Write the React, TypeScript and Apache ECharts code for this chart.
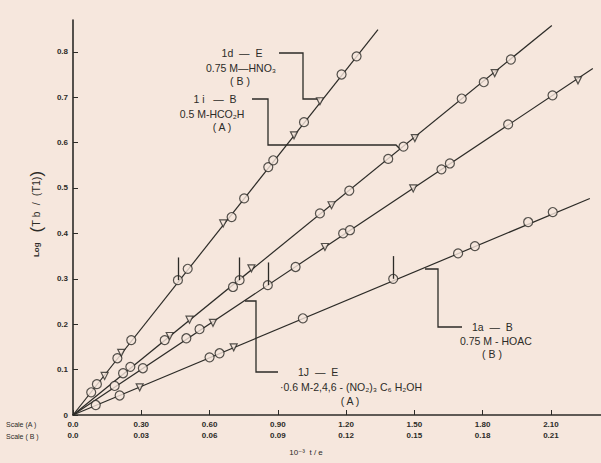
import React, { useEffect, useRef } from "react";
import * as echarts from "echarts";

// ---- Data ----
const X_TICK_VALUES = [0, 0.3, 0.6, 0.9, 1.2, 1.5, 1.8, 2.1];
const X_LABELS_A = ["0.0", "0.30", "0.60", "0.90", "1.20", "1.50", "1.80", "2.10"];
const X_LABELS_B = ["0.0", "0.03", "0.06", "0.09", "0.12", "0.15", "0.18", "0.21"];
const Y_TICK_VALUES = [0, 0.1, 0.2, 0.3, 0.4, 0.5, 0.6, 0.7, 0.8];
const Y_LABELS = ["0", "0.1", "0.2", "0.3", "0.4", "0.5", "0.6", "0.7", "0.8"];

// fitted straight lines through the origin: [x end, y end]
const L1_END = [1.34, 0.849]; // 1d — E
const L2_END = [2.104, 0.858]; // 1i — B
const L3_END = [2.284, 0.763]; // 1J — E
const L4_END = [2.271, 0.477]; // 1a — B

const L1_CIRCLES = [
  [0.08, 0.05], [0.105, 0.068], [0.195, 0.125], [0.256, 0.165], [0.461, 0.297],
  [0.504, 0.322], [0.697, 0.436], [0.752, 0.477], [0.858, 0.546], [0.88, 0.561],
  [1.015, 0.645], [1.18, 0.75], [1.246, 0.79],
];
const L1_TRIANGLES = [[0.139, 0.086], [0.212, 0.137], [0.66, 0.422], [0.971, 0.616], [1.085, 0.691]];

const L2_CIRCLES = [
  [0.22, 0.092], [0.252, 0.106], [0.403, 0.165], [0.703, 0.282], [0.732, 0.297],
  [1.085, 0.444], [1.214, 0.494], [1.385, 0.564], [1.452, 0.591], [1.708, 0.697],
  [1.805, 0.733], [1.924, 0.783],
];
const L2_TRIANGLES = [[0.425, 0.174], [0.512, 0.21], [0.784, 0.323], [1.136, 0.462], [1.502, 0.61], [1.853, 0.753]];

const L3_CIRCLES = [
  [0.183, 0.064], [0.307, 0.103], [0.498, 0.169], [0.556, 0.189], [0.856, 0.286],
  [0.978, 0.326], [1.187, 0.4], [1.217, 0.407], [1.619, 0.541], [1.656, 0.554],
  [1.912, 0.64], [2.107, 0.704],
];
const L3_TRIANGLES = [[0.615, 0.203], [1.107, 0.37], [1.495, 0.499], [2.219, 0.737]];

const L4_CIRCLES = [
  [0.1, 0.022], [0.205, 0.043], [0.6, 0.127], [0.644, 0.136], [1.01, 0.213],
  [1.407, 0.3], [1.692, 0.356], [1.766, 0.372], [2.0, 0.425], [2.108, 0.447],
];
const L4_TRIANGLES = [[0.293, 0.061], [0.706, 0.149]];

// points marked with a vertical arrow stroke
const ARROW_POINTS = [[0.461, 0.297], [0.732, 0.297], [0.856, 0.286], [1.407, 0.3]];
const ARROW_LENGTH = 0.05;

const BG = "#f6e7dd";
const INK = "#2c2b27";
const FONT = "'Liberation Sans', 'DejaVu Sans', sans-serif";

export default function App() {
  const ref = useRef<HTMLDivElement | null>(null);

  useEffect(() => {
    document.body.style.margin = "0";
    document.body.style.background = BG;
    if (!ref.current) return;
    const chart = echarts.init(ref.current, undefined, { renderer: "svg" });

    const lineSeries = (end: number[]) => ({
      type: "line",
      data: [[0, 0], end],
      showSymbol: false,
      silent: true,
      lineStyle: { color: INK, width: 1.2 },
      z: 2,
    });
    const circleSeries = (data: number[][]) => ({
      type: "scatter",
      data,
      symbol: "circle",
      symbolSize: 9,
      itemStyle: { color: BG, borderColor: INK, borderWidth: 1.2 },
      silent: true,
      z: 3,
    });
    const triSeries = (data: number[][]) => ({
      type: "scatter",
      data,
      symbol: "triangle",
      symbolRotate: 180,
      symbolSize: 7,
      itemStyle: { color: BG, borderColor: INK, borderWidth: 1.2 },
      silent: true,
      z: 3,
    });

    const txt = (text: string, x: number, y: number, align = "center", size = 10.5) => ({
      type: "text",
      x,
      y,
      silent: true,
      style: {
        text,
        fill: INK,
        fontSize: size,
        fontFamily: FONT,
        align,
        verticalAlign: "middle",
      },
    });
    const poly = (points: number[][]) => ({
      type: "polyline",
      silent: true,
      shape: { points },
      style: { stroke: INK, lineWidth: 1.3, fill: null },
    });

    const option: any = {
      animation: false,
      backgroundColor: BG,
      grid: { left: 73, right: 0, top: 20, bottom: 48, containLabel: false },
      xAxis: {
        type: "value",
        min: 0,
        max: 2.32,
        interval: 0.3,
        splitLine: { show: false },
        axisLine: { show: true, lineStyle: { color: INK, width: 1.6 } },
        axisTick: { show: true, inside: true, length: 5, customValues: X_TICK_VALUES, lineStyle: { color: INK } },
        axisLabel: {
          customValues: X_TICK_VALUES,
          margin: 4,
          color: INK,
          fontSize: 8,
          fontWeight: "bold",
          fontFamily: FONT,
          lineHeight: 11,
          formatter: (v: number) => {
            const i = X_TICK_VALUES.findIndex((t) => Math.abs(t - v) < 1e-6);
            return i < 0 ? "" : `${X_LABELS_A[i]}\n${X_LABELS_B[i]}`;
          },
        },
      },
      yAxis: {
        type: "value",
        min: 0,
        max: 0.87,
        interval: 0.1,
        splitLine: { show: false },
        axisLine: { show: true, lineStyle: { color: INK, width: 1.6 } },
        axisTick: { show: true, inside: true, length: 5, customValues: Y_TICK_VALUES, lineStyle: { color: INK } },
        axisLabel: {
          customValues: Y_TICK_VALUES,
          margin: 5,
          color: INK,
          fontSize: 8,
          fontWeight: "bold",
          fontFamily: FONT,
          formatter: (v: number) => {
            const i = Y_TICK_VALUES.findIndex((t) => Math.abs(t - v) < 1e-6);
            return i < 0 ? "" : Y_LABELS[i];
          },
        },
      },
      series: [
        lineSeries(L1_END),
        lineSeries(L2_END),
        lineSeries(L3_END),
        {
          ...lineSeries(L4_END),
          markLine: {
            silent: true,
            symbol: "none",
            label: { show: false },
            lineStyle: { color: INK, width: 1.3, type: "solid" },
            data: ARROW_POINTS.map((p) => [{ coord: p }, { coord: [p[0], p[1] + ARROW_LENGTH] }]),
          },
        },
        circleSeries(L1_CIRCLES),
        triSeries(L1_TRIANGLES),
        circleSeries(L2_CIRCLES),
        triSeries(L2_TRIANGLES),
        circleSeries(L3_CIRCLES),
        triSeries(L3_TRIANGLES),
        circleSeries(L4_CIRCLES),
        triSeries(L4_TRIANGLES),
      ],
      graphic: [
        // callout brackets
        poly([[279, 53], [303, 53], [303, 99], [320, 99]]),
        poly([[252, 99], [268, 99], [268, 145], [396, 145], [400, 149]]),
        poly([[245, 301], [256, 301], [256, 372], [278, 372]]),
        poly([[425, 269], [438, 269], [438, 327], [462, 327]]),
        // labels
        txt("1d  —  E", 242, 53),
        txt("0.75 M—HNO₃", 241, 68),
        txt("( B )", 240, 81),
        txt("1 i   —  B", 215, 99),
        txt("0.5 M-HCO₂H", 212, 114),
        txt("( A )", 222, 127),
        txt("1J  —  E", 298, 372, "left"),
        txt("·0.6 M-2,4,6 - (NO₂)₃ C₆ H₂OH", 280, 387, "left"),
        txt("( A )", 350, 401),
        txt("1a  —  B", 472, 327, "left"),
        txt("0.75 M - HOAC", 460, 341, "left"),
        txt("( B )", 492, 354),
        txt("Scale (A )", 6, 424, "left", 7),
        txt("Scale ( B )", 6, 436, "left", 7),
        txt("10⁻³  t / e", 306, 452, "center", 8),
        {
          type: "text",
          x: 36,
          y: 214,
          rotation: Math.PI / 2,
          silent: true,
          style: {
            text: "{s|Log}   {p|(}{m|T}{b| b} {m| /  (T}{b|1}{m|)}{p|)}",
            fill: INK,
            fontFamily: FONT,
            align: "center",
            verticalAlign: "middle",
            rich: {
              s: { fontSize: 8, fontWeight: "bold", fill: INK, fontFamily: FONT },
              p: { fontSize: 17, fill: INK, fontFamily: FONT },
              m: { fontSize: 11, fill: INK, fontFamily: FONT },
              b: { fontSize: 10, fill: INK, fontFamily: FONT },
            },
          },
        },
      ],
    };

    chart.setOption(option);
    return () => chart.dispose();
  }, []);

  return (
    <div
      ref={ref}
      style={{ position: "fixed", left: 0, top: 0, width: 601, height: 463, background: BG }}
    />
  );
}
